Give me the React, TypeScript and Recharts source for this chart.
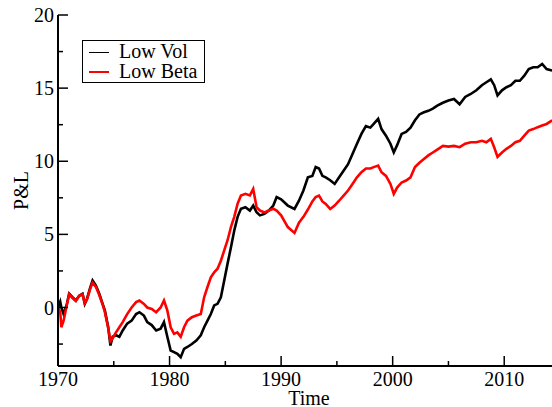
import React from 'react';
import { LineChart, Line, XAxis, YAxis, Legend } from 'recharts';

// Time (years)
const years = [
  1970.0, 1970.2, 1970.3, 1970.5, 1970.8, 1971.0, 1971.3, 1971.6, 1971.9, 1972.2, 1972.4, 1972.6, 1972.9,
  1973.1, 1973.4, 1973.7, 1974.0, 1974.2, 1974.5, 1974.7, 1974.9, 1975.2, 1975.5, 1975.8, 1976.2, 1976.6,
  1977.0, 1977.3, 1977.7, 1978.0, 1978.4, 1978.8, 1979.2, 1979.5, 1979.8,
  1980.1, 1980.4, 1980.7, 1981.0, 1981.3, 1981.6, 1982.0, 1982.4, 1982.8, 1983.1, 1983.4, 1983.7,
  1984.0, 1984.3, 1984.6, 1984.9, 1985.2, 1985.5, 1985.8, 1986.1, 1986.4, 1986.8, 1987.2, 1987.5, 1987.8,
  1988.1, 1988.5, 1988.9, 1989.3, 1989.6,
  1990.0, 1990.6, 1991.2, 1991.6, 1992.0, 1992.4, 1992.8, 1993.1, 1993.4, 1993.7, 1994.0, 1994.4, 1994.8,
  1995.2, 1995.6, 1996.0, 1996.4, 1996.8, 1997.2, 1997.6, 1998.0, 1998.3, 1998.7, 1999.0, 1999.4, 1999.8,
  2000.1, 2000.4, 2000.8, 2001.2, 2001.6, 2002.0, 2002.4, 2002.8, 2003.2, 2003.6, 2004.0, 2004.5,
  2005.0, 2005.5, 2006.0, 2006.5, 2007.0, 2007.5, 2008.0, 2008.4, 2008.8, 2009.1, 2009.4, 2009.8,
  2010.2, 2010.6, 2011.0, 2011.4, 2011.8, 2012.2, 2012.6, 2013.0, 2013.4, 2013.8, 2014.3,
];

// Low Vol P&L
const lowVol = [
  0.0, 0.4, 0.0, -0.45, 0.25, 0.94, 0.7, 0.48, 0.8, 0.94, 0.25, 0.6, 1.4,
  1.85, 1.5, 0.94, 0.25, -0.2, -1.35, -2.6, -2.0, -1.9, -2.0, -1.57, -1.1, -0.9,
  -0.45, -0.32, -0.55, -1.0, -1.2, -1.57, -1.45, -1.0, -2.0,
  -2.94, -3.05, -3.17, -3.4, -2.83, -2.7, -2.5, -2.26, -1.9, -1.35, -0.9, -0.45,
  0.14, 0.25, 0.7, 1.85, 3.0, 4.1, 5.27, 6.2, 6.75, 6.86, 6.63, 6.97, 6.52,
  6.3, 6.4, 6.63, 6.97, 7.55,
  7.4, 6.97, 6.74, 7.3, 8.0, 8.9, 9.0, 9.6, 9.5, 9.0, 8.9, 8.7, 8.45,
  8.9, 9.35, 9.8, 10.5, 11.2, 11.87, 12.4, 12.3, 12.55, 12.9, 12.2, 11.75, 11.2,
  10.6, 11.1, 11.87, 12.0, 12.3, 12.8, 13.2, 13.35, 13.45, 13.6, 13.8, 14.0,
  14.15, 14.26, 13.9, 14.4, 14.6, 14.85, 15.2, 15.4, 15.6, 15.2, 14.5, 14.85,
  15.06, 15.2, 15.5, 15.5, 15.85, 16.3, 16.43, 16.43, 16.65, 16.3, 16.2,
];

// Low Beta P&L
const lowBeta = [
  0.0, -0.3, -1.35, -0.9, 0.2, 0.9, 0.65, 0.45, 0.8, 0.9, 0.3, 0.55, 1.3,
  1.7, 1.4, 0.85, 0.2, -0.3, -1.4, -2.3, -2.1, -1.7, -1.35, -1.0, -0.45, 0.0,
  0.37, 0.48, 0.25, 0.0, -0.1, -0.32, 0.0, 0.48, -0.2,
  -1.35, -1.8, -1.7, -2.0, -1.35, -0.9, -0.66, -0.55, -0.45, 0.7, 1.4, 2.07,
  2.4, 2.65, 3.2, 3.9, 4.6, 5.5, 6.2, 7.1, 7.66, 7.77, 7.66, 8.1, 6.86,
  6.63, 6.5, 6.63, 6.75, 6.63,
  6.3, 5.5, 5.1, 5.8, 6.2, 6.7, 7.25, 7.55, 7.65, 7.25, 7.08, 6.74, 6.97,
  7.3, 7.65, 8.0, 8.45, 8.9, 9.25, 9.5, 9.5, 9.6, 9.7, 9.25, 9.0, 8.45,
  7.77, 8.2, 8.55, 8.68, 8.9, 9.6, 9.9, 10.15, 10.4, 10.6, 10.8, 11.05,
  11.0, 11.05, 10.96, 11.2, 11.3, 11.3, 11.4, 11.3, 11.53, 10.96, 10.3, 10.6,
  10.85, 11.05, 11.3, 11.4, 11.75, 12.1, 12.2, 12.33, 12.45, 12.55, 12.8,
];

const seriesNames = ['Low Vol', 'Low Beta'];
const xTicks = [1970, 1975, 1980, 1985, 1990, 1995, 2000, 2005, 2010, 2015];
const xLabelTicks = [1970, 1980, 1990, 2000, 2010];
const yTicks = [-2.5, 0, 2.5, 5, 7.5, 10, 12.5, 15, 17.5, 20];
const yLabelTicks = [0, 5, 10, 15, 20];

const data = years.map((t, i) => ({ t, lowVol: lowVol[i], lowBeta: lowBeta[i] }));

const FONT = '"Liberation Serif", "Times New Roman", serif';
const MAJOR = 10;
const MINOR = 5;

const BottomTick = (props: any) => {
  const { x, y, payload } = props;
  const major = xLabelTicks.includes(payload.value);
  return (
    <g>
      <line x1={x} y1={y} x2={x} y2={y - (major ? MAJOR : MINOR)} stroke="#000" strokeWidth={1.5} />
      {major && (
        <text x={x} y={y + 19.5} textAnchor="middle" fontFamily={FONT} fontSize={20} fill="#000">
          {payload.value}
        </text>
      )}
    </g>
  );
};

const TopTick = (props: any) => {
  const { x, y, payload } = props;
  const major = xLabelTicks.includes(payload.value);
  return <line x1={x} y1={y} x2={x} y2={y + (major ? MAJOR : MINOR)} stroke="#000" strokeWidth={1.5} />;
};

const LeftTick = (props: any) => {
  const { x, y, payload } = props;
  const major = yLabelTicks.includes(payload.value);
  return (
    <g>
      <line x1={x} y1={y} x2={x + (major ? MAJOR : MINOR)} y2={y} stroke="#000" strokeWidth={1.5} />
      {major && (
        <text x={x - 4} y={y} dy="0.35em" textAnchor="end" fontFamily={FONT} fontSize={20} fill="#000">
          {payload.value}
        </text>
      )}
    </g>
  );
};

const LegendBox = (props: any) => {
  const payload = [...(props.payload || [])].sort(
    (a: any, b: any) => seriesNames.indexOf(a.value) - seriesNames.indexOf(b.value)
  );
  return (
    <div
      style={{
        position: 'relative',
        width: 121,
        height: 41,
        border: '1.2px solid #000',
        background: '#fff',
        fontFamily: FONT,
        fontSize: 20,
        color: '#000',
      }}
    >
      {payload.map((p: any, i: number) => (
        <div key={i} style={{ position: 'absolute', left: 0, top: 1 + i * 19.7, height: 19, width: 121 }}>
          <div style={{ position: 'absolute', left: 6, top: 9.5, width: 20, height: 1.5, background: p.color }} />
          <span style={{ position: 'absolute', left: 36, top: 0, lineHeight: '19px', whiteSpace: 'nowrap' }}>
            {p.value}
          </span>
        </div>
      ))}
    </div>
  );
};

export default function App() {
  return (
    <div style={{ position: 'absolute', left: 0, top: 0, width: 552, height: 407, overflow: 'hidden', background: '#fff' }}>
      <LineChart width={620} height={407} data={data} margin={{ top: 15, right: 60, bottom: 0, left: 0 }}>
        <XAxis
          xAxisId="top"
          orientation="top"
          dataKey="t"
          type="number"
          domain={[1970, 2015]}
          allowDataOverflow
          ticks={xTicks}
          interval={0}
          height={0}
          tickSize={0}
          tickMargin={0}
          tickLine={false}
          tick={<TopTick />}
          axisLine={{ stroke: '#000', strokeWidth: 2 }}
        />
        <XAxis
          dataKey="t"
          type="number"
          domain={[1970, 2015]}
          allowDataOverflow
          ticks={xTicks}
          interval={0}
          height={41}
          tickSize={0}
          tickMargin={0}
          tickLine={false}
          tick={<BottomTick />}
          axisLine={{ stroke: '#000', strokeWidth: 2 }}
          label={{
            content: (p: any) => {
              const vb = p.viewBox || { x: 58, y: 366, width: 502, height: 41 };
              return (
                <text x={vb.x + vb.width / 2} y={405} textAnchor="middle" fontFamily={FONT} fontSize={20} fill="#000">
                  Time
                </text>
              );
            },
          }}
        />
        <YAxis
          type="number"
          domain={[-4, 20]}
          allowDataOverflow
          ticks={yTicks}
          interval={0}
          width={58}
          tickSize={0}
          tickMargin={0}
          tickLine={false}
          tick={<LeftTick />}
          axisLine={{ stroke: '#000', strokeWidth: 2 }}
          label={{
            content: (p: any) => {
              const vb = p.viewBox || { x: 0, y: 15, width: 58, height: 351 };
              const cx = vb.x + 28;
              const cy = vb.y + vb.height / 2;
              return (
                <text x={cx} y={cy} transform={`rotate(-90 ${cx} ${cy})`} textAnchor="middle" fontFamily={FONT} fontSize={20} fill="#000">
                  P&amp;L
                </text>
              );
            },
          }}
        />
        <Legend
          layout="horizontal"
          verticalAlign="middle"
          align="center"
          wrapperStyle={{ left: 82, top: 40, width: 124, height: 44 }}
          content={<LegendBox />}
        />
        <Line
          type="linear"
          dataKey="lowVol"
          name="Low Vol"
          stroke="#000000"
          strokeWidth={2.6}
          dot={false}
          isAnimationActive={false}
        />
        <Line
          type="linear"
          dataKey="lowBeta"
          name="Low Beta"
          stroke="#ff0000"
          strokeWidth={2.6}
          dot={false}
          isAnimationActive={false}
        />
      </LineChart>
    </div>
  );
}
